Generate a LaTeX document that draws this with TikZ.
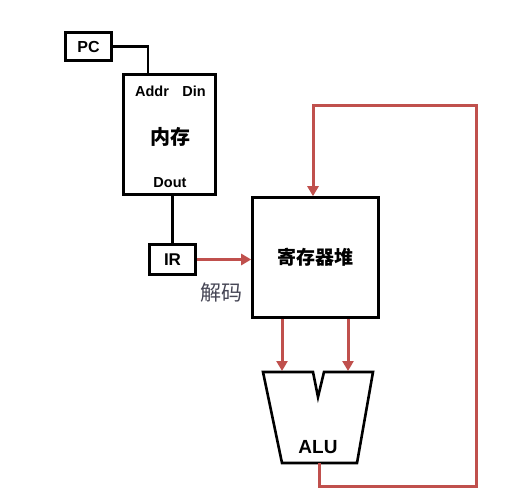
\documentclass[tikz,border=0pt]{standalone}
\usepackage{fontspec}
\setmainfont{Liberation Sans}
\newfontfamily\cjk{Noto Sans CJK SC}
\usetikzlibrary{arrows.meta}
\definecolor{redline}{RGB}{192,80,77}
\definecolor{labelgray}{RGB}{70,70,85}
\tikzset{
  box/.style={draw,rectangle,line width=2.6pt,inner sep=0pt},
  wire/.style={draw,line width=2.6pt},
  redarrow/.style={draw=redline,line width=3pt,-{Triangle[length=10pt,width=11pt]}},
  boldlabel/.style={font=\fontsize{14.5}{14.5}\selectfont\bfseries}
}

\begin{document}
\begin{tikzpicture}[x=1pt,y=-1pt]
\useasboundingbox (0,0) rectangle (516,495);

 \node[box,minimum width=46,minimum height=28,font=\fontsize{16}{16}\selectfont\bfseries] (pc) at (88.5,46.5) {PC};
 \node[box,minimum width=92,minimum height=120] (mem) at (169.5,134.5) {};
  \node[boldlabel] (addr) at (152,91.5) {Addr};
  \node[boldlabel] (din) at (194,91.5) {Din};
  \node[font=\fontsize{20}{20}\selectfont\cjk\bfseries] (memtext) at (170,137) {内存};
  \node[boldlabel] (dout) at (170,182.5) {Dout};
 \node[box,minimum width=46,minimum height=30,font=\fontsize{17}{17}\selectfont\bfseries] (ir) at (172.5,259.5) {IR};
 \node[box,minimum width=126,minimum height=120,font=\fontsize{19}{19}\selectfont\cjk\bfseries] (reg) at (315.5,257.5) {寄存器堆};
 \node[font=\fontsize{21}{21}\selectfont\cjk,text=labelgray] (decode) at (221.5,293) {解码};

 % ALU
 \draw[line width=2.6pt] (263,372) -- (313,372) -- (318,397) -- (324,372) -- (373,372) -- (357,463) -- (282,463) -- cycle;
 \node[font=\fontsize{19}{19}\selectfont\bfseries] (alu) at (318,447) {ALU};
 \coordinate (aluina) at (282,371);
 \coordinate (aluinb) at (348,371);
 \coordinate (aluout) at (319,463);

 \draw[wire] (pc.east) -| ([xshift=-21.5]mem.north);
 \draw[wire] (ir.north) -- (ir.north |- mem.south);
 \draw[redarrow] (ir.east) -- (ir.east -| reg.west);
 \draw[redarrow] (reg.south -| aluina) -- (aluina);
 \draw[redarrow] (reg.south -| aluinb) -- (aluinb);

 % feedback
 \coordinate (loopbottom) at (476,486);
 \coordinate (looptop) at (313,105);
 \draw[redarrow] (aluout) |- (loopbottom) |- (looptop) -- (looptop |- reg.north);
\end{tikzpicture}
\end{document}
